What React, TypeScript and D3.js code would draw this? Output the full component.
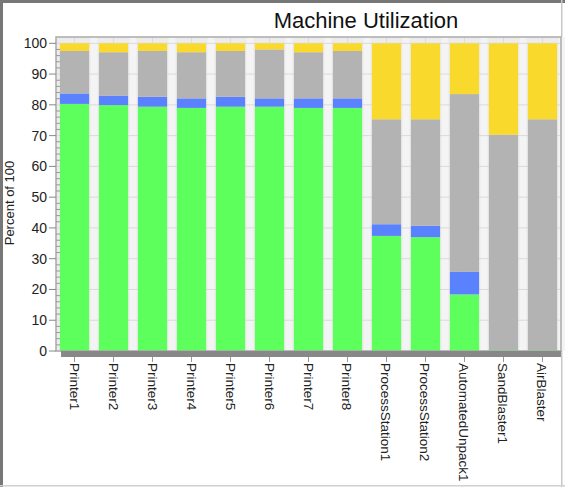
import React from 'react';
import * as d3 from 'd3';

// machines along the x axis
const machines = [
  'Printer1', 'Printer2', 'Printer3', 'Printer4', 'Printer5', 'Printer6', 'Printer7', 'Printer8',
  'ProcessStation1', 'ProcessStation2', 'AutomatedUnpack1', 'SandBlaster1', 'AirBlaster',
];

// percent of time in each state, bottom to top
const working = [80.3, 79.9, 79.4, 79.0, 79.4, 79.4, 79.0, 79.0, 37.4, 37.0, 18.4, 0.3, 0.3];
const setup = [3.4, 3.1, 3.2, 3.1, 3.2, 2.7, 3.1, 3.1, 3.8, 3.7, 7.3, 0, 0];
const idle = [13.8, 14.1, 14.9, 15.0, 14.9, 15.9, 15.0, 15.4, 34.1, 34.6, 57.8, 70.0, 75.0];
const blocked = [2.5, 2.9, 2.5, 2.9, 2.5, 2.0, 2.9, 2.5, 24.7, 24.7, 16.5, 29.7, 24.7];

const yTicks = [0, 10, 20, 30, 40, 50, 60, 70, 80, 90, 100];

const keys = ['working', 'setup', 'idle', 'blocked'];
const colors: Record<string, string> = {
  working: '#5cff5c',
  setup: '#5a82ff',
  idle: '#b3b3b3',
  blocked: '#f9d92b',
};

const W = 565, H = 487;
const left = 56, right = 561, top = 37, bottom = 351;

export default function App() {
  const rows = machines.map((m, i) => ({
    name: m,
    working: working[i],
    setup: setup[i],
    idle: idle[i],
    blocked: blocked[i],
  }));
  const series = d3.stack<any>().keys(keys)(rows);

  const x = d3.scaleBand().domain(machines).range([left, right]).paddingInner(0.25).paddingOuter(0.1);
  const y = d3.scaleLinear().domain([0, 100]).range([bottom, 43.3]);
  const minor = d3.range(0, 101, 2).filter(v => v % 10 !== 0);
  const bw = x.bandwidth();
  const gap = x.step() - bw;

  return (
    <svg width={W} height={H} style={{ position: 'absolute', left: 0, top: 0, fontFamily: '"Liberation Sans", Arial, sans-serif' }}>
      <rect x={0} y={0} width={W} height={H} fill='#fff' />
      {/* outer frame */}
      <rect x={0} y={0} width={W} height={3} fill='#777' />
      <rect x={0} y={0} width={3} height={H} fill='#777' />
      <rect x={561} y={0} width={1.5} height={H} fill='#c8c8c8' />
      <rect x={0} y={485} width={W} height={1.5} fill='#d0d0d0' />

      <text x={366} y={28} textAnchor='middle' fontSize={22} fill='#111'>Machine Utilization</text>

      {/* plot background */}
      <rect x={left} y={top} width={right - left} height={bottom - top} fill='#ececec' />
      {machines.map(m => (
        <rect key={'g' + m} x={(x(m) as number) + bw + gap * 0.15} y={top} width={gap * 0.7} height={bottom - top} fill='#f4f4f4' />
      ))}
      {yTicks.map(t => (
        <line key={'h' + t} x1={left} x2={right} y1={y(t)} y2={y(t)} stroke='#dadada' strokeWidth={1} />
      ))}
      {machines.map(m => (
        <line key={'v' + m} x1={(x(m) as number) + bw / 2} x2={(x(m) as number) + bw / 2} y1={top} y2={bottom} stroke='#dcdcdc' strokeWidth={1} />
      ))}

      {/* bars */}
      {series.map(s => (
        <g key={s.key} fill={colors[s.key]}>
          {s.map((d, i) => (
            <rect key={i} x={x(machines[i])} y={y(d[1])} width={bw} height={Math.max(0, y(d[0]) - y(d[1]))} />
          ))}
        </g>
      ))}

      {/* plot border */}
      <rect x={left} y={top} width={right - left} height={bottom - top} fill='none' stroke='#aaa' strokeWidth={1.5} />

      {/* y axis */}
      {yTicks.map(t => (
        <g key={'yt' + t}>
          <line x1={49} x2={left} y1={y(t)} y2={y(t)} stroke='#888' />
          <text x={47} y={y(t) + 5} textAnchor='end' fontSize={14} fill='#222'>{t}</text>
        </g>
      ))}
      {minor.map(t => (
        <line key={'mt' + t} x1={left} x2={left + 4} y1={y(t)} y2={y(t)} stroke='#999' />
      ))}
      <text transform={`translate(14, 203) rotate(-90)`} textAnchor='middle' fontSize={13} fill='#222'>Percent of 100</text>

      {/* x axis */}
      <rect x={61} y={351} width={right - 61} height={6} fill='#888' />
      {machines.map(m => {
        const cx = (x(m) as number) + bw / 2;
        return (
          <g key={'xt' + m}>
            <line x1={cx} x2={cx} y1={357} y2={362} stroke='#999' />
            <text transform={`translate(${cx - 5}, 363) rotate(90)`} fontSize={13.5} fill='#222'>{m}</text>
          </g>
        );
      })}
    </svg>
  );
}
